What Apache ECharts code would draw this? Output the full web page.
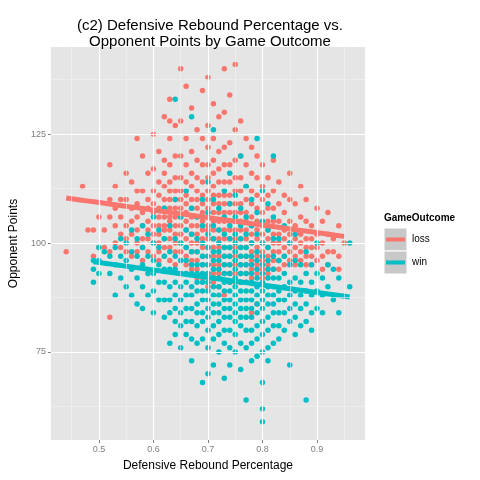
<!DOCTYPE html>
<html>
<head>
<meta charset="utf-8">
<script src="https://cdn.jsdelivr.net/npm/echarts@6/dist/echarts.min.js"></script>
<style>html,body{margin:0;padding:0;background:#fff}#chart{width:480px;height:480px}</style>
</head>
<body>
<div id="chart"></div>
<script>
// columns of points: rebound pct -> opponent points
var lossCols = {
  0.44:[98], 0.47:[113], 0.48:[103], 0.49:[103,97], 0.50:[106,99], 0.51:[103,99],
  0.52:[118,110,106,98,83], 0.53:[113,108,104,100], 0.54:[110,106,102,99],
  0.55:[116,110,104,101,98], 0.56:[114,108,105,102,97], 0.57:[124,112,109,106,103,100,98],
  0.58:[120,112,107,104,101,99,96], 0.59:[116,110,108,105,103,101,98],
  0.60:[125,117,112,109,107,104,102,100,97], 0.61:[121,114,111,108,106,104,102,100,98,96],
  0.62:[129,119,116,113,110,108,106,104,103,101,99,97],
  0.63:[133,128,124,118,114,112,110,108,106,105,103,101,99,96],
  0.64:[127,120,115,112,110,108,106,104,102,100,98,95],
  0.65:[140,128,120,115,112,110,108,106,104,102,100,98,96],
  0.66:[136,124,118,114,111,109,107,105,103,101,99,97,95,93],
  0.67:[131,121,116,113,110,108,106,104,102,100,98,96,94],
  0.68:[126,119,115,112,110,108,106,104,102,100,98,96,94,92],
  0.69:[135,124,118,114,111,109,107,105,103,101,99,97,95,92],
  0.70:[138,127,122,118,115,112,110,108,106,104,103,101,99,97,95,93,90],
  0.71:[132,124,119,116,113,111,109,107,105,103,101,99,97,95,93,91],
  0.72:[129,121,117,114,111,109,107,105,103,101,99,97,95,93,90],
  0.73:[140,130,122,118,114,111,109,107,105,103,101,99,97,95,93,88],
  0.74:[134,123,118,114,111,109,107,105,103,101,99,97,95,93,91],
  0.75:[141,126,119,115,112,109,107,105,103,101,99,97,95,93,91],
  0.76:[128,120,115,112,109,107,105,103,101,99,97,95,93,91],
  0.77:[124,118,113,110,107,105,103,101,99,97,95,93,91],
  0.78:[122,116,112,109,106,104,102,100,98,96,94,92,84],
  0.79:[120,115,111,108,105,103,101,99,97,95,93,86],
  0.80:[118,113,110,107,104,102,100,98,96,94,92,82],
  0.81:[115,111,108,105,103,101,99,97,95,93],
  0.82:[119,112,108,105,102,100,98,96,94],
  0.83:[114,109,105,102,100,98,96,94], 0.84:[111,107,103,101,99,97,95],
  0.85:[116,110,105,102,100,98,96], 0.86:[109,104,101,99,97,95],
  0.87:[113,106,102,100,98,96], 0.88:[110,105,101,99,97,95],
  0.89:[104,101,99,97,95], 0.90:[108,102,99,96], 0.91:[105,100,97,94],
  0.92:[107,102,98,95], 0.93:[101,98], 0.94:[104,97,94], 0.95:[100]
};
var winCols = {
  0.49:[96,94,91], 0.50:[99,96,93], 0.51:[98], 0.52:[97,93], 0.53:[99,95,88],
  0.54:[101,97,92], 0.55:[100,96,90], 0.56:[103,98,94,88], 0.57:[101,97,92,86],
  0.58:[104,99,95,90,85], 0.59:[102,97,93,88], 0.60:[106,100,96,93,89,84],
  0.61:[103,99,95,91,87], 0.62:[108,101,97,94,91,87,83], 0.63:[104,98,94,90,87,84,77],
  0.64:[133,110,101,97,94,91,88,85,82,79], 0.65:[106,100,96,93,90,87,84,81,76],
  0.66:[112,103,99,96,93,91,88,85,82,79], 0.67:[129,108,102,98,95,93,90,88,85,82,78,73],
  0.68:[106,101,98,95,93,91,89,86,84,81,77],
  0.69:[110,104,100,97,95,93,91,89,87,84,82,78,68],
  0.70:[114,107,102,99,97,95,93,91,89,87,85,83,80,76,70],
  0.71:[126,110,104,101,98,96,94,92,90,88,86,84,81,78,72],
  0.72:[108,103,100,98,96,94,92,90,88,86,84,82,79,75],
  0.73:[112,106,102,99,97,95,93,91,89,87,85,83,80,77,69],
  0.74:[116,109,104,101,99,97,95,93,91,89,87,85,83,80,76,72],
  0.75:[111,106,102,100,98,96,94,92,90,88,86,84,82,79,75],
  0.76:[120,108,104,101,99,97,95,93,91,89,87,85,83,81,77,71],
  0.77:[113,106,102,99,97,95,93,91,89,87,85,83,80,76,64],
  0.78:[110,104,100,97,95,93,91,89,87,85,83,80,77,73],
  0.79:[124,107,102,98,96,94,92,90,88,86,84,81,78,74],
  0.80:[112,105,100,97,95,93,91,89,87,85,82,79,75,68,62,59],
  0.81:[109,103,99,96,94,92,90,88,86,83,80,76,73],
  0.82:[120,106,101,97,94,92,90,88,86,84,81,77],
  0.83:[101,96,92,89,87,84,81,78], 0.84:[104,97,93,90,87,84,80],
  0.85:[100,95,91,88,85,82,72], 0.86:[102,96,92,89,86,83,79],
  0.87:[95,91,88,85,81], 0.88:[98,93,89,86,82,64], 0.89:[95,91,88,84,80],
  0.90:[100,93,89,85], 0.91:[92,88,84], 0.92:[95,90], 0.93:[94,87],
  0.94:[92,84], 0.96:[100,90]
};
var xTicks = [0.5, 0.6, 0.7, 0.8, 0.9];
var yTicks = [75, 100, 125];
var xMinor = [0.45, 0.55, 0.65, 0.75, 0.85, 0.95];
var yMinor = [62.5, 87.5, 112.5, 137.5];

function toPoints(cols) {
  var pts = [];
  Object.keys(cols).forEach(function (k) {
    cols[k].forEach(function (y) { pts.push([parseFloat(k), y]); });
  });
  return pts;
}
var lossPts = toPoints(lossCols), winPts = toPoints(winCols);

// linear fit with 95% band, like geom_smooth(method = lm)
function fit(pts) {
  var n = pts.length, sx = 0, sy = 0;
  pts.forEach(function (p) { sx += p[0]; sy += p[1]; });
  var mx = sx / n, my = sy / n, sxx = 0, sxy = 0;
  pts.forEach(function (p) { sxx += (p[0] - mx) * (p[0] - mx); sxy += (p[0] - mx) * (p[1] - my); });
  var b = sxy / sxx, a = my - b * mx, sse = 0;
  pts.forEach(function (p) { var r = p[1] - a - b * p[0]; sse += r * r; });
  var s = Math.sqrt(sse / (n - 2));
  var xs = pts.map(function (p) { return p[0]; });
  var lo = Math.min.apply(null, xs), hi = Math.max.apply(null, xs);
  var line = [], low = [], band = [];
  for (var i = 0; i <= 40; i++) {
    var x = lo + (hi - lo) * i / 40;
    var yh = a + b * x;
    var se = 1.96 * s * Math.sqrt(1 / n + (x - mx) * (x - mx) / sxx);
    line.push([x, yh]); low.push([x, yh - se]); band.push([x, 2 * se]);
  }
  return { line: line, low: low, band: band };
}
var lossFit = fit(lossPts), winFit = fit(winPts);

var RED = '#F8766D', TEAL = '#00BFC4';

function gridLines() {
  var d = [];
  xMinor.forEach(function (v) { d.push({ xAxis: v, lineStyle: { color: '#F2F2F2', width: 0.6, type: 'solid' } }); });
  yMinor.forEach(function (v) { d.push({ yAxis: v, lineStyle: { color: '#F2F2F2', width: 0.6, type: 'solid' } }); });
  xTicks.forEach(function (v) { d.push({ xAxis: v, lineStyle: { color: '#FFFFFF', width: 1.2, type: 'solid' } }); });
  yTicks.forEach(function (v) { d.push({ yAxis: v, lineStyle: { color: '#FFFFFF', width: 1.2, type: 'solid' } }); });
  return d;
}

function bandSeries(f, stack) {
  return [
    { type: 'line', data: f.low, stack: stack, symbol: 'none', silent: true,
      lineStyle: { width: 0 }, areaStyle: { opacity: 0 }, z: 3 },
    { type: 'line', data: f.band, stack: stack, symbol: 'none', silent: true,
      lineStyle: { width: 0 }, areaStyle: { color: '#999999', opacity: 0.45 }, z: 3 }
  ];
}

var chart = echarts.init(document.getElementById('chart'));
var series = [
  { type: 'scatter', data: [], silent: true, z: 0,
    markLine: { silent: true, symbol: 'none', label: { show: false }, animation: false,
      lineStyle: { type: 'solid' }, data: gridLines() } },
  { name: 'loss', type: 'scatter', data: lossPts, symbolSize: 5.5, itemStyle: { color: RED, opacity: 1 }, z: 2 },
  { name: 'win', type: 'scatter', data: winPts, symbolSize: 5.5, itemStyle: { color: TEAL, opacity: 1 }, z: 2 }
].concat(bandSeries(lossFit, 'lb'), bandSeries(winFit, 'wb'), [
  { type: 'line', data: lossFit.line, symbol: 'none', lineStyle: { color: RED, width: 5 }, z: 4 },
  { type: 'line', data: winFit.line, symbol: 'none', lineStyle: { color: TEAL, width: 5 }, z: 4 }
]);

chart.setOption({
  animation: false,
  title: {
    text: '(c2) Defensive Rebound Percentage vs.\nOpponent Points by Game Outcome',
    left: 205, top: 13, textAlign: 'center',
    textStyle: { fontFamily: 'Liberation Sans', fontSize: 15, fontWeight: 'normal', color: '#000', lineHeight: 16 }
  },
  grid: { left: 46, right: 115, top: 47, bottom: 40, show: true, backgroundColor: '#E5E5E5', borderWidth: 0 },
  xAxis: {
    type: 'value', min: 0.412, max: 0.988,
    name: 'Defensive Rebound Percentage', nameLocation: 'middle', nameGap: 20,
    nameTextStyle: { fontFamily: 'Liberation Sans', fontSize: 12, color: '#000' },
    splitLine: { show: false }, axisLine: { show: false },
    axisTick: { show: true, customValues: xTicks, length: 3, lineStyle: { color: '#7F7F7F' } },
    axisLabel: { customValues: xTicks, color: '#7F7F7F', fontSize: 9, fontFamily: 'Liberation Sans', margin: 5 }
  },
  yAxis: {
    type: 'value', min: 54.8, max: 145,
    name: 'Opponent Points', nameLocation: 'middle', nameGap: 28,
    nameTextStyle: { fontFamily: 'Liberation Sans', fontSize: 12, color: '#000' },
    splitLine: { show: false }, axisLine: { show: false },
    axisTick: { show: true, customValues: yTicks, length: 3, lineStyle: { color: '#7F7F7F' } },
    axisLabel: { customValues: yTicks, color: '#7F7F7F', fontSize: 9, fontFamily: 'Liberation Sans', margin: 5 }
  },
  graphic: [
    { type: 'text', left: 384, top: 213, style: { text: 'GameOutcome', font: 'bold 10px Liberation Sans', fill: '#000' } },
    { type: 'rect', shape: { x: 384, y: 228, width: 23, height: 23 }, style: { fill: '#C8C8C8', stroke: '#fff', lineWidth: 1 } },
    { type: 'line', shape: { x1: 386, y1: 239.5, x2: 405, y2: 239.5 }, style: { stroke: RED, lineWidth: 4 } },
    { type: 'rect', shape: { x: 384, y: 251, width: 23, height: 23 }, style: { fill: '#C8C8C8', stroke: '#fff', lineWidth: 1 } },
    { type: 'line', shape: { x1: 386, y1: 262.5, x2: 405, y2: 262.5 }, style: { stroke: TEAL, lineWidth: 4 } },
    { type: 'text', left: 412, top: 234, style: { text: 'loss', font: '10px Liberation Sans', fill: '#000' } },
    { type: 'text', left: 412, top: 257, style: { text: 'win', font: '10px Liberation Sans', fill: '#000' } }
  ],
  series: series
});
</script>
</body>
</html>
